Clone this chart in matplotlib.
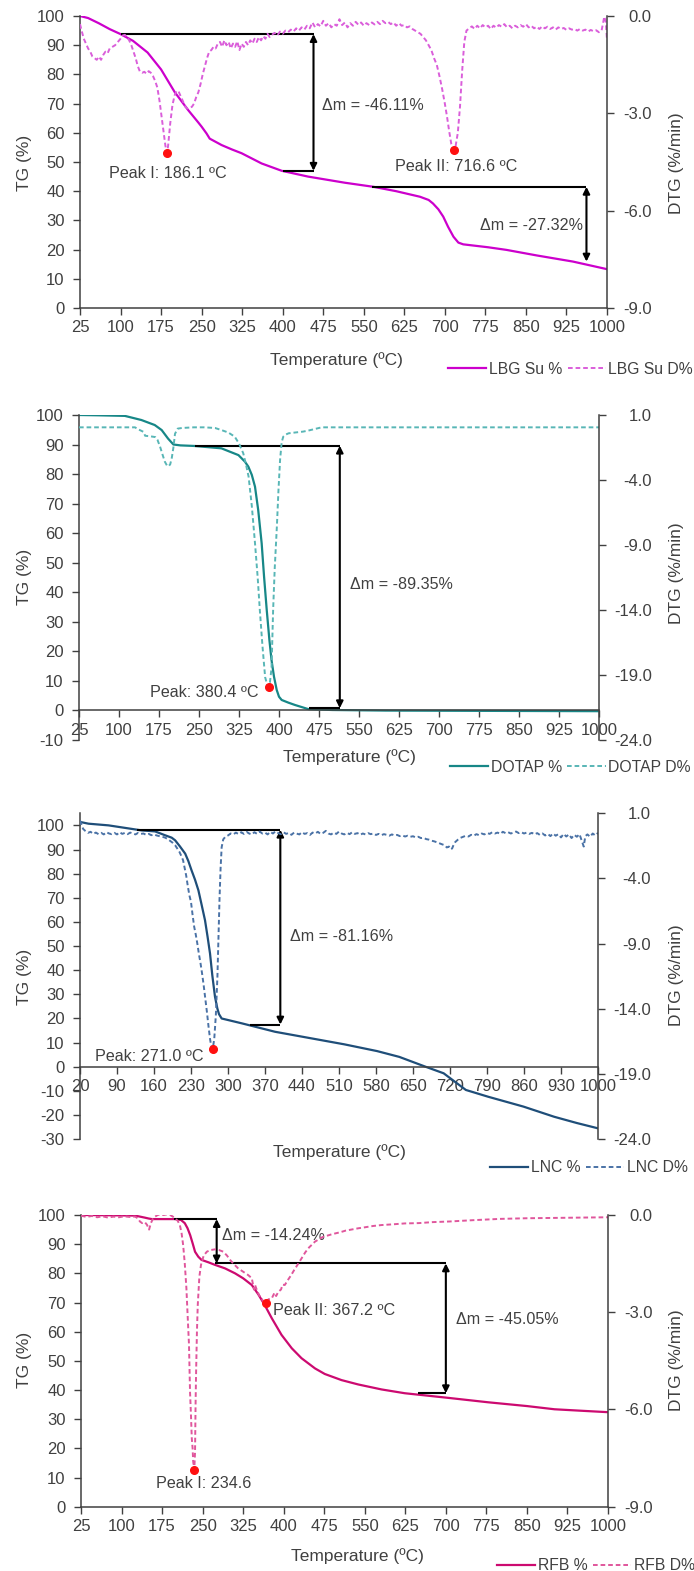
import matplotlib
matplotlib.use('Agg')
import matplotlib.pyplot as plt
from matplotlib.ticker import FixedLocator, FuncFormatter

plt.rcParams['font.family'] = ['Liberation Sans', 'DejaVu Sans']
plt.rcParams['axes.unicode_minus'] = False

# ---------------- DATA ----------------
# Panel 1: LBG Su
lbg_T = [25, 40, 60, 80, 100, 123, 150, 175, 200, 225, 244, 250, 259, 265, 275, 287, 306, 324, 361,
         398, 447, 515, 568, 610, 654, 670, 678, 688, 697, 706, 716, 725, 734, 780, 814, 870, 937,
         1000]
lbg_TG = [100, 99.3, 97.5, 95.5, 93.8, 91.5, 87.5, 81.7, 74, 67.8, 63.5, 62.1, 59.8, 58, 57, 55.8,
          54.3, 53, 49.5, 47, 45, 42.9, 41.5, 40, 38.1, 37, 35.8, 33.8, 31.3, 27.8, 24.4, 22.4, 21.8,
          20.8, 19.9, 18.0, 15.9, 13.3]
lbg_DT = [25, 28, 32, 36, 40, 44, 48, 52, 56, 60, 64, 68, 72, 76, 80, 85, 90, 95, 100, 104, 108, 112,
          116, 120, 124, 128, 132, 136, 140, 144, 148, 152, 156, 160, 164, 168, 172, 176, 180, 183,
          186.1, 188, 192, 196, 200, 204, 208, 212, 216, 220, 224, 228, 232, 236, 240, 244, 248, 252,
          256, 260, 264, 268, 272, 276, 280, 284, 288, 292, 296, 300, 304, 308, 312, 316, 320, 324,
          328, 332, 336, 340, 344, 348, 352, 356, 360, 364, 368, 372, 376, 380, 385, 390, 395, 400,
          405, 410, 415, 420, 425, 430, 435, 440, 445, 450, 455, 460, 465, 470, 475, 480, 485, 490,
          495, 500, 505, 510, 515, 520, 525, 530, 535, 540, 545, 550, 555, 560, 565, 570, 575, 580,
          585, 590, 595, 600, 605, 610, 615, 620, 625, 630, 635, 640, 645, 650, 655, 660, 665, 670,
          675, 680, 685, 690, 695, 700, 704, 708, 712, 716.6, 720, 724, 728, 732, 736, 740, 745, 750,
          755, 760, 765, 770, 775, 780, 785, 790, 795, 800, 805, 810, 815, 820, 825, 830, 835, 840,
          845, 850, 855, 860, 865, 870, 875, 880, 885, 890, 895, 900, 905, 910, 915, 920, 925, 930,
          935, 940, 945, 950, 955, 960, 965, 970, 975, 980, 985, 990, 995, 998, 1000]
lbg_D = [-0.25, -0.45, -0.7, -0.85, -1.0, -1.1, -1.25, -1.3, -1.35, -1.25, -1.35, -1.2, -1.1, -1.15,
         -1.0, -0.95, -0.9, -0.8, -0.7, -0.6, -0.58, -0.65, -0.75, -0.9, -1.1, -1.3, -1.55, -1.72,
         -1.75, -1.72, -1.78, -1.7, -1.75, -1.85, -2.0, -2.2, -2.6, -3.1, -3.6, -4.0, -4.22, -4.0,
         -3.3, -2.75, -2.45, -2.3, -2.35, -2.5, -2.65, -2.8, -2.85, -2.82, -2.8, -2.7, -2.5, -2.35,
         -2.1, -1.8, -1.55, -1.3, -1.1, -1.05, -0.95, -1.0, -0.85, -0.8, -0.95, -0.75, -0.9, -0.8,
         -1.0, -0.85, -0.95, -0.78, -1.05, -0.85, -0.95, -0.8, -0.9, -0.75, -0.85, -0.7, -0.8,
         -0.65, -0.75, -0.62, -0.7, -0.55, -0.65, -0.58, -0.52, -0.6, -0.48, -0.55, -0.45, -0.5,
         -0.42, -0.48, -0.38, -0.45, -0.35, -0.42, -0.3, -0.38, -0.2, -0.35, -0.25, -0.32, -0.15,
         -0.3, -0.22, -0.35, -0.25, -0.3, -0.1, -0.28, -0.2, -0.35, -0.22, -0.3, -0.18, -0.27, -0.2,
         -0.3, -0.22, -0.28, -0.2, -0.26, -0.18, -0.25, -0.15, -0.22, -0.18, -0.25, -0.2, -0.3,
         -0.22, -0.3, -0.28, -0.35, -0.32, -0.4, -0.45, -0.5, -0.55, -0.65, -0.75, -0.9, -1.05, -1.3,
         -1.5, -1.85, -2.25, -2.7, -3.1, -3.55, -3.95, -4.13, -4.0, -3.6, -2.8, -1.7, -0.8, -0.45,
         -0.38, -0.32, -0.4, -0.3, -0.38, -0.28, -0.35, -0.3, -0.4, -0.3, -0.36, -0.28, -0.33, -0.25,
         -0.35, -0.3, -0.38, -0.3, -0.35, -0.28, -0.33, -0.25, -0.35, -0.3, -0.38, -0.33, -0.4,
         -0.32, -0.38, -0.33, -0.4, -0.35, -0.42, -0.35, -0.4, -0.37, -0.43, -0.38, -0.42, -0.4,
         -0.45, -0.4, -0.45, -0.42, -0.48, -0.43, -0.47, -0.44, -0.5, -0.45, -0.02, -0.2, -0.75]
lbg_peak_T = [186.1, 716.6]
lbg_peak_D = [-4.22, -4.13]

# Panel 2: DOTAP
dot_T = [25, 60, 111, 142, 167, 180, 192, 202, 215, 242, 292, 324, 336, 342.5, 349, 355, 361, 367.5,
         372, 377, 382, 386, 390.6, 395.7, 400, 405, 417.5, 430, 455, 500, 600, 1000]
dot_TG = [100, 99.9, 99.7, 98.3, 96.6, 94.9, 92, 90, 89.7, 89.5, 88.7, 86.4, 84.2, 82.5, 79.7, 75.7,
          67.8, 56.5, 45.2, 33.9, 23.7, 16.9, 11.3, 6.8, 4.5, 3.4, 2.5, 1.7, 0.3, 0, -0.2, -0.4]
dot_DT = [25, 130, 136, 141, 146, 149, 160, 168, 172, 177, 182, 186, 190, 193, 196, 199, 202, 205,
          210, 218, 240, 260, 280, 292, 305, 317, 325, 333, 338, 343, 349, 355, 360, 364, 369, 374,
          378, 380.4, 383, 386, 389, 392, 396, 399, 402, 405, 408, 413, 418, 430, 445, 455, 470, 480,
          500, 1000]
dot_D = [0.05, 0.05, -0.1, -0.2, -0.3, -0.6, -0.65, -0.7, -0.9, -1.44, -2.1, -2.6, -2.9, -2.95,
         -2.8, -2.3, -1.5, -0.45, -0.05, 0.0, 0.05, 0.05, 0.0, -0.16, -0.35, -0.67, -1.2, -1.95,
         -2.8, -3.75, -6.0, -8.88, -11.5, -14.0, -16.8, -19.2, -19.8, -19.95, -19.6, -18.5, -14.0,
         -10.8, -7.6, -4.8, -2.47, -1.1, -0.67, -0.5, -0.41, -0.35, -0.28, -0.2, -0.05, 0.05, 0.05,
         0.05]
dot_peak_T = [380.4]
dot_peak_D = [-19.95]

# Panel 3: LNC
lnc_T = [20, 25, 36, 74, 137, 162, 181, 193.5, 200, 209, 219, 225, 231, 237.6, 244, 250, 256.5, 261.4,
         266, 270.3, 275.4, 279.8, 283, 288, 326, 389, 452, 520, 582, 624, 674, 708, 750, 792, 859,
         917, 960, 1000]
lnc_TG = [101.4, 101.2, 100.7, 100, 97.9, 97.5, 95.9, 94.9, 93.8, 91.3, 88.3, 85.2, 81.4, 77.5, 73.1,
          67.2, 60.7, 53.8, 46.9, 37.9, 29, 24.2, 21.8, 20, 18, 14.5, 12.0, 9.3, 6.5, 4.1, 0, -2.7,
          -9.6, -12.4, -16.5, -20.7, -23.3, -25.5]
lnc_DT = [20, 23, 26, 30, 35, 40, 45, 50, 55, 60, 65, 70, 75, 80, 85, 90, 95, 100, 105, 110, 115, 120,
          125, 130, 135, 140, 145, 150, 155, 160, 165, 170, 175, 180, 185, 190, 195, 200, 204, 208,
          212, 215, 218, 221, 224, 227, 230, 233, 236, 239, 242, 245, 248, 251, 254, 257, 260, 263,
          266, 268, 271.0, 274, 277, 280, 282, 284, 286, 288, 291, 295,
          300, 305, 310, 315, 320, 325, 330, 335, 340, 345, 350, 355, 360, 365, 370, 375, 380, 385,
          390, 395, 400, 405, 410, 415, 420, 425, 430, 435, 440, 445, 450, 455, 460, 465, 470, 475,
          480, 485, 490, 495, 500, 505, 510, 515, 520, 525, 530, 535, 540, 545, 550, 555, 560, 565,
          570, 575, 580, 585, 590, 595, 600, 605, 610, 615, 620, 625, 630, 635, 640, 645, 650, 655,
          660, 665, 670, 675, 680, 685, 690, 695, 700, 705, 710, 714, 718, 721, 724, 727, 730, 735,
          740, 745, 750, 755, 760, 765, 770, 775, 780, 785, 790, 795, 800, 805, 810, 815, 820, 825,
          830, 835, 840, 845, 850, 855, 860, 865, 870, 875, 880, 885, 890, 895, 900, 905, 910, 915,
          920, 925, 930, 935, 940, 945, 950, 955, 960, 965, 970, 973, 976, 980, 985, 990, 995, 1000]
lnc_D = [0.45, 0.1, -0.2, -0.35, -0.5, -0.42, -0.58, -0.48, -0.6, -0.5, -0.62, -0.45, -0.55, -0.6,
         -0.5, -0.62, -0.45, -0.58, -0.5, -0.6, -0.48, -0.55, -0.62, -0.5, -0.58, -0.55, -0.65,
         -0.58, -0.68, -0.62, -0.7, -0.75, -0.8, -0.85, -0.95, -1.1, -1.25, -1.45, -1.7, -1.95,
         -2.3, -2.6, -3.2, -3.8, -4.6, -5.3, -5.8, -6.8, -7.7, -8.3, -9.0, -9.8, -10.5, -11.3,
         -12.2, -13.2, -14.2, -15.3, -16.3, -16.8, -17.1, -16.3, -14.5, -11.5, -8.5, -5.5, -3.2,
         -1.6, -1.0, -0.8,
         -0.70, -0.55, -0.62, -0.48, -0.60, -0.45, -0.58, -0.42, -0.55, -0.62, -0.45, -0.58, -0.40,
         -0.55, -0.48, -0.62, -0.42, -0.55, -0.38, -0.52, -0.60, -0.45, -0.58, -0.50, -0.65, -0.48,
         -0.56, -0.62, -0.45, -0.58, -0.52, -0.66, -0.48, -0.55, -0.42, -0.58, -0.50, -0.35, -0.55,
         -0.62, -0.48, -0.58, -0.40, -0.55, -0.62, -0.50, -0.60, -0.45, -0.58, -0.52, -0.65, -0.55,
         -0.62, -0.52, -0.60, -0.55, -0.66, -0.58, -0.68, -0.60, -0.65, -0.72, -0.62, -0.70, -0.66,
         -0.75, -0.70, -0.78, -0.72, -0.80, -0.76, -0.85, -0.80, -0.90, -0.88, -0.98, -1.02, -1.10,
         -1.15, -1.22, -1.30, -1.38, -1.45, -1.62, -1.55, -1.76, -1.70, -1.40, -1.20, -1.02, -0.88,
         -0.80, -0.72, -0.78, -0.65, -0.72, -0.60, -0.68, -0.55, -0.62, -0.50, -0.58, -0.45, -0.55,
         -0.48, -0.58, -0.42, -0.52, -0.45, -0.55, -0.48, -0.40, -0.52, -0.45, -0.55, -0.48, -0.58,
         -0.50, -0.62, -0.52, -0.66, -0.55, -0.70, -0.58, -0.75, -0.55, -0.72, -0.60, -0.85, -0.58,
         -0.78, -0.62, -0.90, -0.65, -0.80, -0.60, -1.20, -1.55, -0.75, -0.62, -0.80, -0.55, -0.70,
         -0.50]
lnc_peak_T = [271.0]
lnc_peak_D = [-17.1]

# Panel 4: RFB
rfb_T = [25, 80, 125, 143, 150, 156, 175, 199, 210, 217, 222, 227, 232, 236, 242, 248, 260.5, 273,
         291.5, 310, 325, 341, 353, 365, 378, 396, 415, 433, 458, 476, 507, 538, 581, 624, 700, 778,
         850, 901, 950, 1000]
rfb_TG = [100, 99.9, 99.8, 99.1, 98.8, 98.6, 98.6, 98.6, 98.3, 97.2, 95.5, 93.1, 90, 87.4, 85.7, 84.6,
          83.8, 82.9, 81.7, 80, 78.3, 76, 72.8, 69.1, 64.6, 58.9, 54.3, 50.9, 47.4, 45.5, 43.4, 41.9,
          40.2, 38.9, 37.4, 35.8, 34.5, 33.4, 32.9, 32.4]
rfb_DT = [25, 35, 45, 55, 65, 75, 85, 95, 105, 115, 125, 130, 134, 138, 143, 147, 151, 154, 158, 162,
          167, 172, 178, 184, 190, 195, 199, 204, 208, 211, 214, 217, 220, 222, 224.8, 226.7, 228.5,
          230, 231.5, 232.5, 234.6, 236, 237, 238, 239.5, 241, 244, 247, 252, 258, 265, 273, 280,
          288, 295, 301, 308, 316, 325, 334, 341, 345, 347, 350, 353, 357, 360, 363, 367.2, 372, 378,
          383, 386, 390, 395, 398, 402, 408, 414, 420, 427, 433, 440, 447, 452, 458, 465, 472, 480,
          488, 495, 505, 515, 525, 538, 550, 565, 581, 600, 624, 650, 675, 707, 750, 800, 850, 900,
          950, 1000]
rfb_D = [-0.02, -0.06, -0.03, -0.07, -0.04, -0.08, -0.05, -0.07, -0.04, -0.06, -0.05, -0.1, -0.2,
         -0.25, -0.22, -0.3, -0.45, -0.26, -0.12, -0.05, 0.0, 0.02, 0.0, 0.02, 0.0, -0.05, -0.1,
         -0.18, -0.32, -0.55, -0.93, -1.5, -2.26, -3.0, -4.0, -5.45, -6.2, -6.9, -7.2, -7.6, -7.87,
         -7.3, -5.8, -4.8, -3.6, -2.78, -1.9, -1.54, -1.25, -1.13, -1.08, -1.06, -1.08, -1.13,
         -1.25, -1.39, -1.52, -1.65, -1.75, -1.85, -1.95, -2.3, -2.16, -2.3, -2.42, -2.55, -2.6,
         -2.72, -2.68, -2.6, -2.57, -2.4, -2.5, -2.37, -2.3, -2.15, -2.16, -2.0, -1.85, -1.68, -1.5,
         -1.34, -1.15, -1.0, -0.92, -0.82, -0.75, -0.68, -0.64, -0.6, -0.57, -0.53, -0.48, -0.45,
         -0.41, -0.38, -0.34, -0.31, -0.29, -0.26, -0.25, -0.22, -0.2, -0.16, -0.12, -0.1, -0.09,
         -0.08, -0.07]
rfb_peak_T = [234.6, 367.2]
rfb_peak_D = [-7.87, -2.72]

# ---------------- LAYOUT ----------------
W, H = 694, 1571
fig = plt.figure(figsize=(W / 100, H / 100), dpi=100)
TXT = '#404040'
AX = '#404040'
FS_TICK = 12
FS_LAB = 12.5
FS_ANN = 11.6
FS_LEG = 11.3


def rect(l, r, t, b):
    return [l / W, 1 - b / H, (r - l) / W, (b - t) / H]


panels = [
    dict(rect=rect(80, 607, 16, 308), xlim=(25, 1000), xticks=list(range(25, 1001, 75)),
         ylim=(0, 100), yticks=list(range(0, 101, 10)), y2lim=(-9, 0), y2ticks=[-9, -6, -3, 0],
         zero=False, T=lbg_T, TG=lbg_TG, DT=lbg_DT, D=lbg_D, pT=lbg_peak_T, pD=lbg_peak_D,
         c1='#CC00CC', c2='#DA5EDA', names=('LBG Su %', 'LBG Su D%'), r2pad=27,
         hl=[(93.8, 100, 457), (47, 401, 457), (41.5, 565, 962)],
         arr=[(457, 93.8, 47), (962, 41.5, 15.9)],
         txt=[(472.7, 69.2, 'Δm = -46.11%', 'left'), (765, 28.4, 'Δm = -27.32%', 'left'),
              (187.8, 46.2, 'Peak I: 186.1 ºC', 'center'), (720.4, 48.4, 'Peak II: 716.6 ºC', 'center')],
         xl=(336, 360), tg=(24, 163), dtg=(676, 163), leg=(448, 369)),
    dict(rect=rect(79, 599, 415, 739.5), xlim=(25, 1000), xticks=list(range(25, 1001, 75)),
         ylim=(-10, 100), yticks=list(range(-10, 101, 10)), y2lim=(-24, 1), y2ticks=[-24, -19, -14, -9, -4, 1],
         zero=True, T=dot_T, TG=dot_TG, DT=dot_DT, D=dot_D, pT=dot_peak_T, pD=dot_peak_D,
         c1='#178787', c2='#58B6B6', names=('DOTAP %', 'DOTAP D%'), r2pad=33,
         hl=[(89.6, 242.5, 514), (0.6, 457, 514)],
         arr=[(514, 89.6, 0.6)],
         txt=[(533, 42.7, 'Δm = -89.35%', 'left'), (259, 5.9, 'Peak: 380.4 ºC', 'center')],
         xl=(349.5, 757), tg=(24, 577), dtg=(676, 573), leg=(450, 767)),
    dict(rect=rect(80, 598, 813.3, 1139.2), xlim=(20, 1000), xticks=list(range(20, 1001, 70)),
         ylim=(-30, 105), yticks=list(range(-30, 101, 10)), y2lim=(-24, 1), y2ticks=[-24, -19, -14, -9, -4, 1],
         zero=True, T=lnc_T, TG=lnc_TG, DT=lnc_DT, D=lnc_D, pT=lnc_peak_T, pD=lnc_peak_D,
         c1='#1F4E79', c2='#4A72A6', names=('LNC %', 'LNC D%'), r2pad=33,
         hl=[(98.2, 127, 399), (17.5, 341.6, 399)],
         arr=[(399, 98.2, 17.5)],
         txt=[(418, 54.1, 'Δm = -81.16%', 'left'), (150.9, 4.4, 'Peak: 271.0 ºC', 'center')],
         xl=(339, 1152), tg=(24, 977), dtg=(676, 975), leg=(490, 1168)),
    dict(rect=rect(81, 608, 1215, 1506.7), xlim=(25, 1000), xticks=list(range(25, 1001, 75)),
         ylim=(0, 100), yticks=list(range(0, 101, 10)), y2lim=(-9, 0), y2ticks=[-9, -6, -3, 0],
         zero=False, T=rfb_T, TG=rfb_TG, DT=rfb_DT, D=rfb_D, pT=rfb_peak_T, pD=rfb_peak_D,
         c1='#CC0A70', c2='#E0569C', names=('RFB %', 'RFB D%'), r2pad=27,
         hl=[(98.6, 197.6, 276), (83.4, 273, 700), (38.9, 648.5, 700)],
         arr=[(276, 98.6, 83.4), (700, 83.4, 38.9)],
         txt=[(285.3, 92.9, 'Δm = -14.24%', 'left'), (718.8, 64.2, 'Δm = -45.05%', 'left'),
              (251.3, 8.0, 'Peak I: 234.6', 'center'), (492.7, 67.1, 'Peak II: 367.2 ºC', 'center')],
         xl=(357, 1556), tg=(24, 1360), dtg=(676, 1360), leg=(497, 1566)),
]

for p in panels:
    ax = fig.add_axes(p['rect'])
    ax2 = ax.twinx()
    ax.set_xlim(*p['xlim'])
    ax.set_ylim(*p['ylim'])
    ax2.set_ylim(*p['y2lim'])
    ax.xaxis.set_major_locator(FixedLocator(p['xticks']))
    ax.yaxis.set_major_locator(FixedLocator(p['yticks']))
    ax2.yaxis.set_major_locator(FixedLocator(p['y2ticks']))
    ax2.yaxis.set_major_formatter(FuncFormatter(lambda v, pos: f'{v:.1f}'))
    for a in (ax, ax2):
        a.patch.set_visible(False)
        for s in a.spines.values():
            s.set_color(AX)
            s.set_linewidth(1.1)
        a.spines['top'].set_visible(False)
    ax.spines['right'].set_visible(False)
    ax2.spines['left'].set_visible(False)
    ax2.spines['bottom'].set_visible(False)
    if p['zero']:
        ax.spines['bottom'].set_position(('data', 0))
    ax.tick_params(axis='x', direction='out', length=5, width=1, color=AX, labelsize=FS_TICK,
                   labelcolor=TXT, pad=4)
    ax.tick_params(axis='y', direction='out', length=5, width=1, color=AX, labelsize=FS_TICK,
                   labelcolor=TXT, pad=6)
    ax2.tick_params(axis='y', direction='out', length=5, width=1, color=AX, labelsize=FS_TICK,
                    labelcolor=TXT, pad=p['r2pad'])
    for lbl in ax2.get_yticklabels():
        lbl.set_horizontalalignment('right')

    l1, = ax.plot(p['T'], p['TG'], color=p['c1'], lw=1.6, solid_joinstyle='round')
    l2, = ax2.plot(p['DT'], p['D'], color=p['c2'], lw=1.4, dashes=(2.4, 1.5))
    ax2.plot(p['pT'], p['pD'], 'o', color='#FF1010', ms=5.5, zorder=5)

    for (y, x0, x1) in p['hl']:
        ax.plot([x0, x1], [y, y], color='black', lw=1.5, solid_capstyle='butt', zorder=4)
    for (x, y0, y1) in p['arr']:
        ax.annotate('', xy=(x, y1), xytext=(x, y0),
                    arrowprops=dict(arrowstyle='<|-|>', color='black', lw=1.5,
                                    mutation_scale=10, shrinkA=0, shrinkB=0), zorder=4)
    for (x, y, s, ha) in p['txt']:
        ax.text(x, y, s, ha=ha, va='center', fontsize=FS_ANN, color=TXT)

    fig.text(p['xl'][0] / W, 1 - p['xl'][1] / H, 'Temperature (ºC)', ha='center', va='center',
             fontsize=FS_LAB, color=TXT)
    fig.text(p['tg'][0] / W, 1 - p['tg'][1] / H, 'TG (%)', ha='center', va='center',
             rotation=90, fontsize=FS_LAB, color=TXT)
    fig.text(p['dtg'][0] / W, 1 - p['dtg'][1] / H, 'DTG (%/min)', ha='center', va='center',
             rotation=90, fontsize=FS_LAB, color=TXT)
    fig.legend([l1, l2], list(p['names']), loc='center left',
               bbox_to_anchor=(p['leg'][0] / W, 1 - p['leg'][1] / H), ncol=2, frameon=False,
               fontsize=FS_LEG, handlelength=2.45, handletextpad=0.15, columnspacing=0.35,
               borderpad=0, borderaxespad=0, labelcolor=TXT)

fig.savefig('out.png', dpi=100)
